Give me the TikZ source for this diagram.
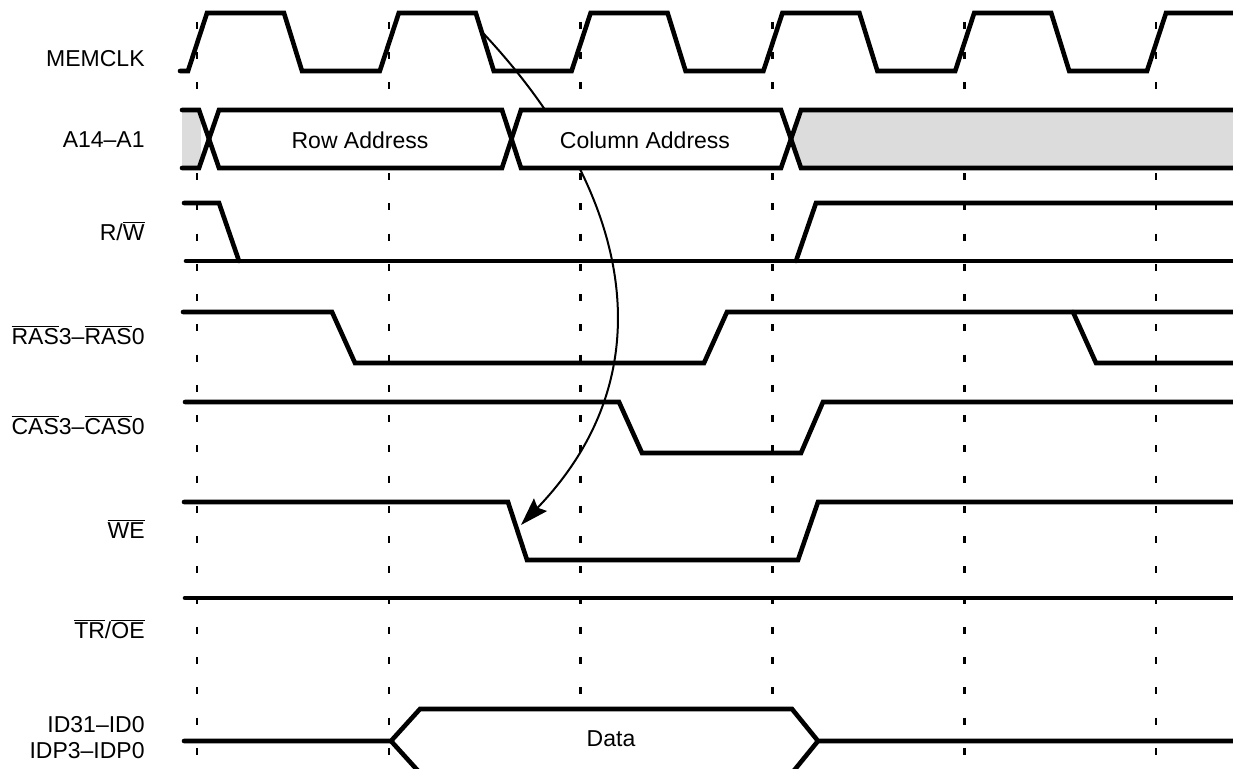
\documentclass[tikz,border=0pt]{standalone}
\usepackage{fontspec}
\setmainfont{Liberation Sans}
\usetikzlibrary{arrows.meta}
\definecolor{busGrey}{HTML}{DCDCDC}
\tikzset{
  >={Stealth[length=14pt,width=9pt,inset=2pt]},
  sig/.style={line width=2.3pt, line cap=round, line join=miter},
  tick/.style={line width=1.3pt, dash pattern=on 3.4pt off 11.725pt},
  lbl/.style={anchor=base east, inner sep=0pt, font=\fontsize{11.5}{13}\selectfont},
  buslbl/.style={inner sep=0pt, font=\fontsize{11.5}{13}\selectfont},
  flow/.style={->, line width=1pt},
}
\newcommand{\ovl}[1]{$\overline{\mbox{#1}}$}

\begin{document}
\begin{tikzpicture}[x=0.5pt,y=-0.5pt]
  \useasboundingbox (0,0) rectangle (1233,769);
  % clock edges
  \foreach \d in {197,388.8,580.6,772.4,964.2,1156}
    \draw[tick] (\d,22) -- (\d,769);

  % labels
  \node[lbl] (lclk)  at (145,67)  {MEMCLK};
  \node[lbl] (laddr) at (145,148) {A14--A1};
  \node[lbl] (lrw)   at (145,241) {R/\ovl{W}};
  \node[lbl] (lras)  at (145,345) {\ovl{RAS}3--\ovl{RAS}0};
  \node[lbl] (lcas)  at (145,435) {\ovl{CAS}3--\ovl{CAS}0};
  \node[lbl] (lwe)   at (145,539) {\ovl{WE}};
  \node[lbl] (ltroe) at (145,639) {\ovl{TR}/\ovl{OE}};
  \node[lbl,anchor=east,align=right] (ldata) at (145,738)
    {ID31--ID0\\IDP3--IDP0};

  % clock edge to write strobe (runs behind the address bus)
  \coordinate (clkfall) at (483,33);
  \coordinate (wefall) at (521,525);
  \draw[flow] (clkfall) .. controls (630,190) and (670,370) .. (wefall);

  % MEMCLK
  \draw[sig] (180,71)
    \foreach \d in {197,388.8,580.6,772.4,964.2}
      { -- (\d-9,71) -- (\d+10,13) -- (\d+87,13) -- (\d+105,71) }
    -- (1147,71) -- (1166,13) -- (1233,13);

  % A14-A1
  \fill[white] (182,110) rectangle (1233,168);
  \fill[busGrey] (182,110) rectangle (201,168);
  \fill[busGrey] (791,139) -- (801,110) -- (1233,110) -- (1233,168)
    -- (801,168) -- cycle;
  \draw[sig] (182,110) -- (199,110) -- (219,168) -- (502,168) -- (521,110)
    -- (781,110) -- (801,168) -- (1233,168);
  \draw[sig] (182,168) -- (199,168) -- (219,110) -- (502,110) -- (521,168)
    -- (781,168) -- (801,110) -- (1233,110);
  \node[buslbl] (rowaddr) at (360,140) {Row Address};
  \node[buslbl] (coladdr) at (645,140) {Column Address};

  % R/W
  \draw[sig] (184,203) -- (219,203) -- (239,261);
  \draw[sig] (186,261) -- (1233,261);
  \draw[sig] (796,261) -- (816,203) -- (1233,203);

  % RAS
  \draw[sig] (183,312) -- (332,312) -- (355,363) -- (704,363) -- (727,312)
    -- (1233,312);
  \draw[sig] (1073,312) -- (1096,363) -- (1233,363);

  % CAS
  \draw[sig] (185,402) -- (619,402) -- (642,453) -- (801,453) -- (823,402)
    -- (1233,402);

  % WE
  \draw[sig] (184,502) -- (508,502) -- (527,560) -- (798,560) -- (818,502)
    -- (1233,502);

  % TR/OE
  \draw[sig] (185,598) -- (1233,598);

  % ID31-ID0
  \fill[white] (391,741) -- (420,709) -- (792,709) -- (818,741) -- (792,773)
    -- (420,773) -- cycle;
  \draw[sig] (184,741) -- (391,741) -- (420,709) -- (792,709) -- (818,741)
    -- (1233,741);
  \draw[sig] (391,741) -- (420,773);
  \draw[sig] (818,741) -- (792,773);
  \node[buslbl] (data) at (611,739) {Data};
\end{tikzpicture}
\end{document}
